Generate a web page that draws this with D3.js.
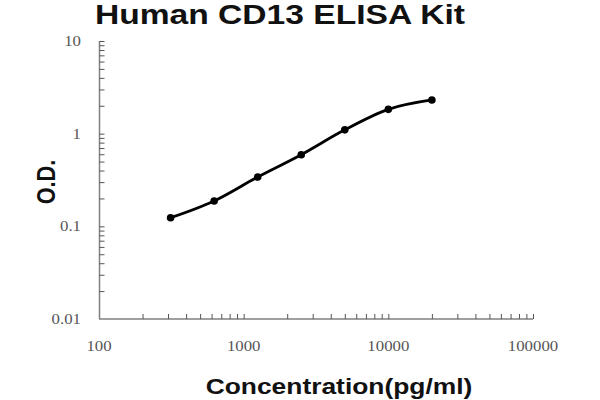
<!DOCTYPE html>
<html><head><meta charset="utf-8">
<script src="https://cdn.jsdelivr.net/npm/d3@7"></script>
<style>body{margin:0;background:#fff}</style>
</head><body>
<svg id="c" width="600" height="400"></svg>
<script>
const concentrations = [312.5, 625, 1250, 2500, 5000, 10000, 20000];
const odValues = [0.124, 0.188, 0.341, 0.593, 1.10, 1.83, 2.31];
const xTickLabels = [100, 1000, 10000, 100000];
const yTickLabels = [0.01, 0.1, 1, 10];
const title = "Human CD13 ELISA Kit";
const xTitle = "Concentration(pg/ml)";
const yTitle = "O.D.";

const svg = d3.select("#c");
const x = d3.scaleLog().domain([100, 100000]).range([99, 533]);
const y = d3.scaleLog().domain([0.01, 10]).range([319, 41]);
const axisColor = "#808080";

// minor ticks
const xMinor = [], yMinor = [];
for (let d = 100; d < 100000; d *= 10) for (let k = 2; k <= 10; k++) xMinor.push(d * k);
for (let d = 0.01; d < 9; d *= 10) for (let k = 2; k <= 10; k++) yMinor.push(+(d * k).toPrecision(3));

const xAxis = d3.axisBottom(x).tickValues(xMinor).tickSize(-5).tickFormat("");
const gx = svg.append("g").attr("transform", "translate(0,319)").call(xAxis);
const yAxis = d3.axisLeft(y).tickValues(yMinor).tickSize(-5).tickFormat("");
const gy = svg.append("g").attr("transform", "translate(99.5,0)").call(yAxis);
[gx, gy].forEach(g => {
  g.selectAll("path.domain").attr("stroke", axisColor).attr("stroke-width", 1.5);
  g.selectAll(".tick line").attr("stroke", "#555").attr("stroke-width", 1);
});
gx.select("path.domain").attr("d", "M99,0H533");
gy.select("path.domain").attr("d", "M0,41V319");

// tick labels
svg.append("g").selectAll("text").data(xTickLabels).join("text")
  .attr("transform", d => `translate(${x(d)},351) scale(1.2,1)`)
  .attr("text-anchor", "middle")
  .attr("font-family", "Liberation Serif, serif").attr("font-size", 14)
  .attr("fill", "#555").text(d => d);
svg.append("g").selectAll("text").data(yTickLabels).join("text")
  .attr("transform", d => `translate(81,${y(d) + 5}) scale(1.2,1)`)
  .attr("text-anchor", "end")
  .attr("font-family", "Liberation Serif, serif").attr("font-size", 14)
  .attr("fill", "#555").text(d => d);

// curve
const pts = concentrations.map((c, i) => [c, odValues[i]]);
svg.append("path").datum(pts)
  .attr("fill", "none").attr("stroke", "#000").attr("stroke-width", 2.8)
  .attr("d", d3.line().x(d => x(d[0])).y(d => y(d[1])).curve(d3.curveMonotoneX));
svg.append("g").selectAll("circle").data(pts).join("circle")
  .attr("cx", d => x(d[0])).attr("cy", d => y(d[1])).attr("r", 3.8).attr("fill", "#000");

// titles
svg.append("text").attr("transform", "translate(280,24) scale(1.2,1)").attr("text-anchor", "middle")
  .attr("font-family", "Liberation Sans, Arial, sans-serif").attr("font-weight", "bold")
  .attr("font-size", 28).attr("fill", "#111").text(title);
svg.append("text").attr("transform", "translate(339,394) scale(1.2,1)").attr("text-anchor", "middle")
  .attr("font-family", "Liberation Sans, Arial, sans-serif").attr("font-weight", "bold")
  .attr("font-size", 22).attr("fill", "#111").text(xTitle);
svg.append("text").attr("transform", "translate(55,182) rotate(-90) scale(0.87,1)").attr("text-anchor", "middle")
  .attr("font-family", "Liberation Sans, Arial, sans-serif").attr("font-weight", "bold")
  .attr("font-size", 25).attr("fill", "#111").text(yTitle);
</script>
</body></html>
